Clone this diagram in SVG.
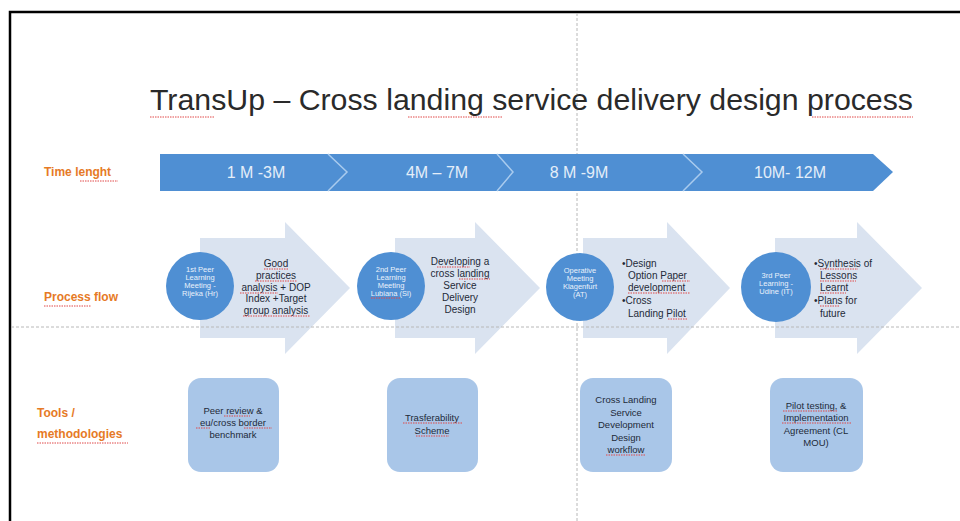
<svg xmlns="http://www.w3.org/2000/svg" width="960" height="521" viewBox="0 0 960 521">
<defs>
<style>
.txt{font-family:"Liberation Sans","Open Sans",Arial,sans-serif;}
.lbl{font-family:"Liberation Sans",Arial,sans-serif;font-weight:bold;font-size:12px;fill:#E67A26;}
.bar{font-family:"Liberation Sans",Arial,sans-serif;font-size:16px;fill:#E4EEF9;text-anchor:middle;}
.circ{fill:#4F8FD3;}
.ctx{font-family:"Liberation Sans",Arial,sans-serif;font-size:7.5px;fill:#EAF2FB;text-anchor:middle;}
.arr{fill:#DAE3F0;}
.atx{font-family:"Liberation Sans",Arial,sans-serif;font-size:10px;fill:#1E2A38;}
.box{fill:#A9C6E8;}
.btx{font-family:"Liberation Sans",Arial,sans-serif;font-size:9.5px;fill:#1E2A38;text-anchor:middle;}
.sq{stroke:#E04848;stroke-width:1;stroke-dasharray:1.5 1;fill:none;}
.dash{stroke:#B8B8B8;stroke-width:1;stroke-dasharray:3 2;fill:none;}
.sep{stroke:#A9CBEE;stroke-width:1.5;fill:none;}
</style>
</defs>
<rect x="0" y="0" width="960" height="521" fill="#FFFFFF"/>
<path d="M10 521 V12 H960" stroke="#000" stroke-width="2.5" fill="none"/>
<line class="dash" x1="577" y1="13" x2="577" y2="521"/>

<text class="txt" x="150" y="110" font-size="30" fill="#2A2A2A" textLength="763" lengthAdjust="spacingAndGlyphs">TransUp – Cross landing service delivery design process</text>
<path class="sq" d="M150 117 H215 M408 117 H502 M812 117 H913"/>

<g id="labels">
<text class="lbl" x="44" y="176">Time lenght</text>
<text class="lbl" x="44" y="301">Process flow</text>
<text class="lbl" x="37" y="417">Tools /</text>
<text class="lbl" x="37" y="438">methodologies</text>
<path class="sq" d="M80 181 H118 M44 306 H91 M37 443 H128"/>
</g>

<g id="timebar">
<polygon points="160,154 873,154 893,172 873,191 160,191" fill="#4F8FD3"/>
<polyline class="sep" points="328,154 347,172 328,191"/>
<polyline class="sep" points="497,154 513,172 497,191"/>
<polyline class="sep" points="683,154 702,172 683,191"/>
<text class="bar" x="256" y="178">1 M -3M</text>
<text class="bar" x="437" y="178">4M – 7M</text>
<text class="bar" x="579" y="178">8 M -9M</text>
<text class="bar" x="790" y="178">10M- 12M</text>
</g>

<g id="arrows">
<polygon class="arr" points="200,238 285,238 285,222 350,288 285,354 285,338 200,338"/>
<polygon class="arr" points="395,238 475,238 475,222 540,288 475,354 475,338 395,338"/>
<polygon class="arr" points="583,238 667,238 667,222 730,288 667,354 667,338 583,338"/>
<polygon class="arr" points="775,238 857,238 857,222 922,288 857,354 857,338 775,338"/>
</g>
<line class="dash" x1="11" y1="327" x2="960" y2="327"/>

<g id="step1">
<circle class="circ" cx="200" cy="286" r="34"/>
<text class="ctx" x="200" y="272">1st Peer</text>
<text class="ctx" x="200" y="280">Learning</text>
<text class="ctx" x="200" y="288">Meeting -</text>
<text class="ctx" x="200" y="296">Rijeka (Hr)</text>
<g class="atx" text-anchor="middle">
<text x="276" y="267">Good</text>
<text x="276" y="279">practices</text>
<text x="276" y="291">analysis + DOP</text>
<text x="276" y="302">Index +Target</text>
<text x="276" y="314">group analysis</text>
</g>
<path class="sq" d="M264 269 H288 M255 281 H297 M240 293 H278 M243 316 H310"/>
</g>

<g id="step2">
<circle class="circ" cx="391" cy="286" r="34"/>
<text class="ctx" x="391" y="272">2nd Peer</text>
<text class="ctx" x="391" y="280">Learning</text>
<text class="ctx" x="391" y="288">Meeting</text>
<text class="ctx" x="391" y="296">Lubiana (Sl)</text>
<g class="atx" text-anchor="middle">
<text x="460" y="265">Developing a</text>
<text x="460" y="277">cross landing</text>
<text x="460" y="289">Service</text>
<text x="460" y="301">Delivery</text>
<text x="460" y="313">Design</text>
</g>
<path class="sq" d="M437 267 H470 M459 279 H490 M371 298 H401"/>
</g>

<g id="step3">
<circle class="circ" cx="580" cy="287" r="34"/>
<text class="ctx" x="580" y="273">Operative</text>
<text class="ctx" x="580" y="281">Meeting</text>
<text class="ctx" x="580" y="289">Klagenfurt</text>
<text class="ctx" x="580" y="297">(AT)</text>
<g class="atx">
<text x="622" y="267">•Design</text>
<text x="628" y="279">Option Paper</text>
<text x="628" y="291">development</text>
<text x="622" y="304">•Cross</text>
<text x="628" y="317">Landing Pilot</text>
</g>
<path class="sq" d="M662 281 H690 M628 293 H690 M668 319 H687"/>
</g>

<g id="step4">
<circle class="circ" cx="776" cy="287" r="35"/>
<text class="ctx" x="776" y="278">3rd Peer</text>
<text class="ctx" x="776" y="286">Learning -</text>
<text class="ctx" x="776" y="294">Udine (IT)</text>
<g class="atx">
<text x="814" y="267">•Synthesis of</text>
<text x="820" y="279">Lessons</text>
<text x="820" y="291">Learnt</text>
<text x="814" y="304">•Plans for</text>
<text x="820" y="317">future</text>
</g>
<path class="sq" d="M820 269 H858 M820 281 H856 M820 293 H846 M820 306 H840"/>
</g>

<g id="tool1">
<rect class="box" x="188" y="378" width="91" height="94" rx="13"/>
<text class="btx" x="233" y="414">Peer review &amp;</text>
<text class="btx" x="233" y="426">eu/cross border</text>
<text class="btx" x="233" y="438">benchmark</text>
<path class="sq" d="M224 416 H250 M196 428 H210 M244 428 H272"/>
</g>
<g id="tool2">
<rect class="box" x="387" y="378" width="91" height="94" rx="13"/>
<text class="btx" x="432" y="421">Trasferability</text>
<text class="btx" x="432" y="434">Scheme</text>
<path class="sq" d="M403 423 H462 M416 436 H449"/>
</g>
<g id="tool3">
<rect class="box" x="580" y="378" width="92" height="94" rx="13"/>
<text class="btx" x="626" y="403">Cross Landing</text>
<text class="btx" x="626" y="416">Service</text>
<text class="btx" x="626" y="428">Development</text>
<text class="btx" x="626" y="441">Design</text>
<text class="btx" x="626" y="453">workflow</text>
<path class="sq" d="M606 455 H646"/>
</g>
<g id="tool4">
<rect class="box" x="770" y="378" width="93" height="94" rx="13"/>
<text class="btx" x="816" y="409">Pilot testing, &amp;</text>
<text class="btx" x="816" y="421">Implementation</text>
<text class="btx" x="816" y="434">Agreement (CL</text>
<text class="btx" x="816" y="446">MOU)</text>
<path class="sq" d="M783 411 H838 M782 423 H852"/>
</g>
</svg>
